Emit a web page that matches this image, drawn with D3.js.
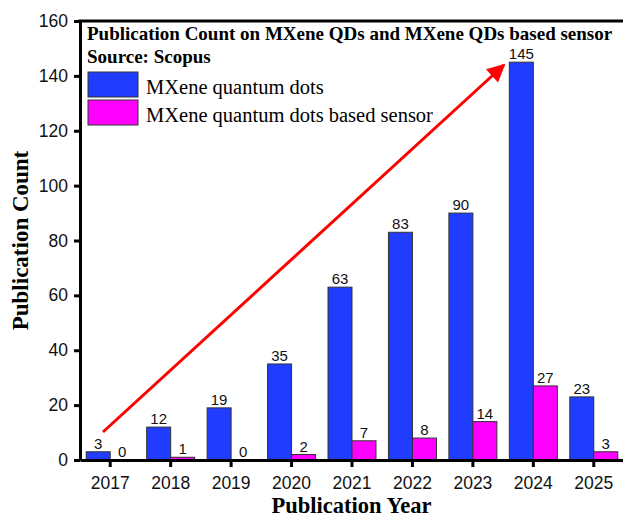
<!DOCTYPE html>
<html><head><meta charset="utf-8">
<script src="https://cdn.jsdelivr.net/npm/d3@7"></script>
<style>body{margin:0;background:#fff}svg{display:block}</style>
</head><body>
<svg id="c" width="623" height="527"></svg>
<script>
const years = ["2017","2018","2019","2020","2021","2022","2023","2024","2025"];
const qds = [3,12,19,35,63,83,90,145,23];
const sensor = [0,1,0,2,7,8,14,27,3];
const seriesNames = ["MXene quantum dots","MXene quantum dots based sensor"];
const yTicks = [0,20,40,60,80,100,120,140,160];
const colors = ["#1f3cff","#ff00ff"];

const svg = d3.select("#c");
const m = {l:80, r:-1, t:21, b:67};
const W = 623, H = 527;
const x = d3.scaleBand().domain(years).range([m.l, W - m.r]).paddingInner(0.2).paddingOuter(0.1);
const y = d3.scaleLinear().domain([0,160]).range([H - m.b, m.t]);
const bw = 24;
const cx = d => x(d) + x.bandwidth()/2;

// bars
const series = [qds, sensor];
series.forEach((vals, si) => {
  svg.append("g").selectAll("rect").data(years).join("rect")
    .attr("x", (d) => cx(d) - (si===0 ? bw : 0))
    .attr("y", (d,i) => y(vals[i]))
    .attr("width", bw)
    .attr("height", (d,i) => y(0) - y(vals[i]))
    .attr("fill", colors[si])
    .attr("stroke", "#333")
    .attr("stroke-width", 1);
  svg.append("g").selectAll("text").data(years).join("text")
    .attr("x", d => cx(d) + (si===0 ? -bw/2 : bw/2))
    .attr("y", (d,i) => y(vals[i]) - 3)
    .attr("text-anchor","middle")
    .attr("font-family","Liberation Sans, Arial, sans-serif")
    .attr("font-size", 15)
    .attr("fill","#111")
    .text((d,i) => vals[i]);
});

// axes
const yAxis = svg.append("g").attr("transform",`translate(${m.l},0)`)
  .call(d3.axisLeft(y).tickValues(yTicks).tickSize(6).tickSizeOuter(0));
const xAxis = svg.append("g").attr("transform",`translate(0,${y(0)})`)
  .call(d3.axisBottom(x).tickSize(7).tickSizeOuter(0));
[yAxis, xAxis].forEach(g => {
  g.select(".domain").attr("stroke","#000").attr("stroke-width",3);
  g.selectAll(".tick line").attr("stroke","#000").attr("stroke-width",3);
  g.selectAll(".tick text").attr("font-family","Liberation Sans, Arial, sans-serif")
    .attr("font-size",17.5).attr("fill","#111");
});
yAxis.selectAll(".tick text").attr("x",-12);
xAxis.selectAll(".tick text").attr("y",17);
// top frame line
svg.append("line").attr("x1",m.l-1.5).attr("x2",W).attr("y1",y(160)).attr("y2",y(160))
  .attr("stroke","#000").attr("stroke-width",3);

// axis titles
svg.append("text").attr("x",(m.l+W)/2).attr("y",513).attr("text-anchor","middle")
  .attr("font-family","Liberation Serif, Times New Roman, serif").attr("font-weight","bold")
  .attr("font-size",22.5).text("Publication Year");
svg.append("text").attr("transform",`translate(28,${(y(0)+y(160))/2}) rotate(-90)`)
  .attr("text-anchor","middle")
  .attr("font-family","Liberation Serif, Times New Roman, serif").attr("font-weight","bold")
  .attr("font-size",23).text("Publication Count");

// legend
const lg = svg.append("g").attr("font-family","Liberation Serif, Times New Roman, serif");
lg.append("text").attr("x",87).attr("y",40).attr("font-weight","bold").attr("font-size",19)
  .text("Publication Count on MXene QDs and MXene QDs based sensor");
lg.append("text").attr("x",87).attr("y",63).attr("font-weight","bold").attr("font-size",19)
  .text("Source: Scopus");
seriesNames.forEach((n,i) => {
  lg.append("rect").attr("x",88).attr("y",72 + i*28).attr("width",50).attr("height",25)
    .attr("fill",colors[i]).attr("stroke","#333").attr("stroke-width",1);
  lg.append("text").attr("x",146).attr("y",94 + i*28).attr("font-size",20.5).text(n);
});

// arrow
svg.append("defs").append("marker").attr("id","ah").attr("viewBox","0 0 10 10")
  .attr("refX",9).attr("refY",5).attr("markerWidth",22).attr("markerHeight",18)
  .attr("markerUnits","userSpaceOnUse").attr("orient","auto")
  .append("path").attr("d","M0,0 L10,5 L0,10 z").attr("fill","#ff0000");
svg.append("line").attr("x1",103).attr("y1",432).attr("x2",504).attr("y2",65)
  .attr("stroke","#ff0000").attr("stroke-width",3).attr("marker-end","url(#ah)");
</script>
</body></html>
